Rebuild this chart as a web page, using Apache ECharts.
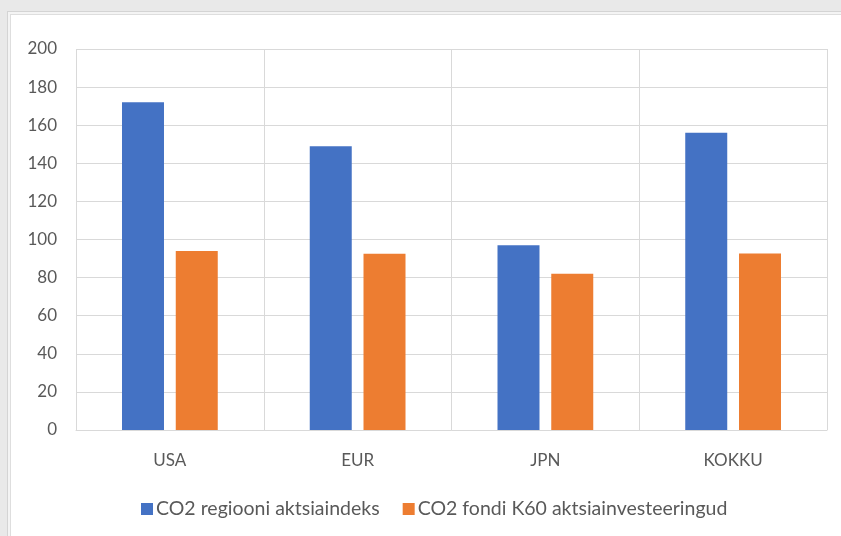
<!DOCTYPE html>
<html>
<head>
<meta charset="utf-8">
<script src="https://cdn.jsdelivr.net/npm/echarts@6/dist/echarts.min.js"></script>
<style>
html,body{margin:0;padding:0;width:841px;height:536px;overflow:hidden;background:#e9e9e9;}
#frame{position:absolute;left:7px;top:11px;width:900px;height:600px;background:#fff;border:1px solid #d4d4d4;box-shadow:inset 0 0 0 2px #f4f4f4, inset 0 0 0 3px #dedede;}
#chart{position:absolute;left:0;top:0;width:841px;height:536px;}
</style>
</head>
<body>
<div id="frame"></div>
<div id="chart"></div>
<script>
const categories = ['USA', 'EUR', 'JPN', 'KOKKU'];
const seriesNames = ['CO2 regiooni aktsiaindeks', 'CO2 fondi K60 aktsiainvesteeringud'];
const regionIndex = [172, 149, 97, 156];
const fundK60 = [94, 92.5, 82, 92.6];
const yTicks = {min: 0, max: 200, interval: 20};

const chart = echarts.init(document.getElementById('chart'), null, {renderer: 'canvas'});
const font = 'Lato, "Open Sans", sans-serif';
chart.setOption({
  animation: false,
  backgroundColor: 'transparent',
  grid: {left: 76, right: 14, top: 49, bottom: 106},
  legend: {
    data: seriesNames,
    top: 494,
    left: 136,
    itemWidth: 12,
    itemHeight: 12,
    itemGap: 23,
    icon: 'rect',
    textStyle: {color: '#595959', fontSize: 19.5, fontFamily: font, padding: [0, 0, 0, -2]}
  },
  xAxis: {
    type: 'category',
    data: categories,
    axisLine: {show: true, lineStyle: {color: '#d9d9d9', width: 1}},
    axisTick: {show: false},
    splitLine: {show: true, lineStyle: {color: '#d9d9d9', width: 1}},
    axisLabel: {color: '#595959', fontSize: 17, fontFamily: font, margin: 22}
  },
  yAxis: {
    type: 'value',
    min: yTicks.min, max: yTicks.max, interval: yTicks.interval,
    axisLine: {show: false},
    axisTick: {show: false},
    splitLine: {show: true, lineStyle: {color: '#d9d9d9', width: 1}},
    axisLabel: {color: '#595959', fontSize: 17, fontFamily: font, margin: 19}
  },
  series: [
    {name: seriesNames[0], type: 'bar', data: regionIndex, itemStyle: {color: '#4472c4'},
     barGap: '28%', barCategoryGap: '49%'},
    {name: seriesNames[1], type: 'bar', data: fundK60, itemStyle: {color: '#ed7d31'},
     barGap: '28%', barCategoryGap: '49%'}
  ]
});
</script>
</body>
</html>
